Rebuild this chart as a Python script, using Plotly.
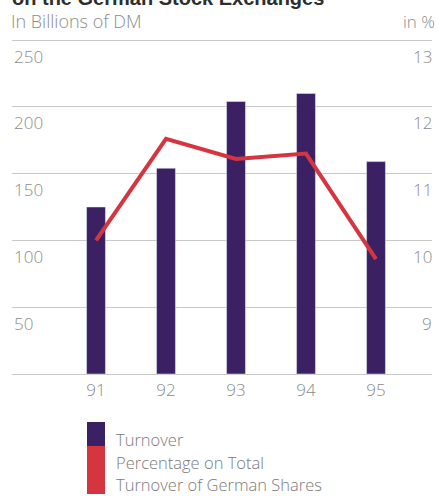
import plotly.graph_objects as go

# Turnover on the German stock exchanges, 1991-1995
years = ["91", "92", "93", "94", "95"]
turnover_bn_dm = [125, 154, 204, 210, 159]          # left axis, billions of DM
german_share_pct = [10.0, 11.52, 11.22, 11.3, 9.72]  # right axis, in %

left_ticks = [50, 100, 150, 200, 250]
right_ticks = [9, 10, 11, 12, 13]

W, H = 438, 496
PLOT_L, PLOT_R = 12, 432
Y0_PX, Y250_PX = 374, 40           # pixel rows of the 0 and 250 gridlines
UNIT = (Y0_PX - Y250_PX) / 250     # pixels per billion DM
Y_LO, Y_HI = -1.5, 262             # axis range, a little room around the grid
PLOT_T = Y250_PX - (Y_HI - 250) * UNIT
PLOT_B = Y0_PX - Y_LO * UNIT

PURPLE = "#3b2163"
RED = "#d5353f"
GRID = "#c9c9c9"
LABEL = "#8c8c8c"
FONT = "Open Sans"
LABEL_DROP = -16                   # value labels sit just below their gridline


def px_x(px):
    return (px - PLOT_L) / (PLOT_R - PLOT_L)


def px_y(py):
    return (PLOT_B - py) / (PLOT_B - PLOT_T)


fig = go.Figure()
fig.add_trace(go.Bar(
    x=years, y=turnover_bn_dm, marker_color=PURPLE, width=0.27,
    name="Turnover", showlegend=False,
))
fig.add_trace(go.Scatter(
    x=years, y=german_share_pct, yaxis="y2", mode="lines",
    line=dict(color=RED, width=4), showlegend=False,
))

tick_font = dict(family=FONT, size=17, color=LABEL, weight=300)

fig.update_layout(
    width=W, height=H,
    margin=dict(l=PLOT_L, r=W - PLOT_R, t=PLOT_T, b=H - PLOT_B),
    paper_bgcolor="white", plot_bgcolor="white",
    xaxis=dict(
        type="category", range=[-1.2, 4.8], showgrid=False, zeroline=False,
        showline=False, ticks="", tickfont=tick_font, ticklabelstandoff=2,
    ),
    yaxis=dict(
        range=[Y_LO, Y_HI], tickvals=left_ticks, showticklabels=False,
        showgrid=True, gridcolor=GRID, gridwidth=1,
        zeroline=True, zerolinecolor=GRID, zerolinewidth=1,
        showline=False, ticks="",
    ),
    # right axis: 8 % sits on the baseline, 1 % per 50 billion DM
    yaxis2=dict(
        range=[8 + Y_LO / 50, 8 + Y_HI / 50], overlaying="y", side="right",
        tickvals=right_ticks, showticklabels=False,
        showgrid=False, zeroline=False, showline=False, ticks="",
    ),
    showlegend=False,
)

# Value labels, placed under each gridline at both ends of the plot
for v in left_ticks:
    fig.add_annotation(
        text=str(v), xref="paper", yref="y", x=0, y=v, xanchor="left",
        yanchor="middle", yshift=LABEL_DROP, showarrow=False, font=tick_font,
    )
for p in right_ticks:
    fig.add_annotation(
        text=str(p), xref="paper", yref="y2", x=1, y=p, xanchor="right",
        yanchor="middle", yshift=LABEL_DROP, xshift=2, showarrow=False,
        font=tick_font,
    )

# Header texts
fig.add_annotation(
    text="<b>on the German Stock Exchanges</b>", xref="paper", yref="paper",
    x=px_x(10), y=px_y(11), xanchor="left", yanchor="bottom", showarrow=False,
    font=dict(family="Liberation Sans", size=20, color="#2e2e2e"),
)
fig.add_annotation(
    text="In Billions of DM", xref="paper", yref="paper",
    x=px_x(9), y=px_y(21), xanchor="left", yanchor="middle", showarrow=False,
    font=dict(family=FONT, size=18, color=LABEL, weight=300),
)
fig.add_annotation(
    text="in %", xref="paper", yref="paper",
    x=px_x(437), y=px_y(21), xanchor="right", yanchor="middle", showarrow=False,
    font=dict(family=FONT, size=17, color=LABEL, weight=300),
)

# Legend: stacked swatch with three text lines
fig.add_shape(type="rect", xref="paper", yref="paper",
              x0=px_x(87), x1=px_x(105), y0=px_y(422), y1=px_y(446),
              fillcolor=PURPLE, line_width=0)
fig.add_shape(type="rect", xref="paper", yref="paper",
              x0=px_x(87), x1=px_x(105), y0=px_y(446), y1=px_y(494),
              fillcolor=RED, line_width=0)
legend_lines = ["Turnover", "Percentage on Total", "Turnover of German Shares"]
for txt, cy in zip(legend_lines, [440, 463, 485]):
    fig.add_annotation(
        text=txt, xref="paper", yref="paper", x=px_x(114), y=px_y(cy),
        xanchor="left", yanchor="middle", showarrow=False,
        font=dict(family=FONT, size=16.5, color="#7a7a7a", weight=300),
    )

fig.write_html("out.html")
